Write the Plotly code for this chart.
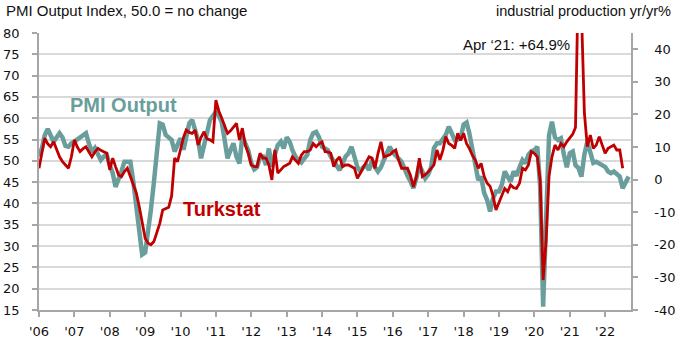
import plotly.graph_objects as go
import pandas as pd

# PMI Output Index (left axis), monthly from Jan 2006
pmi_output = [
    51, 53, 56, 57.5, 56, 54.5, 55.5, 56.5, 55.5, 53.5, 53.3, 54.1,          # 2006
    54.5, 55, 55.3, 55.8, 56.5, 54, 52.1, 53, 51.5, 50.2, 51, 51.4,          # 2007
    49, 47.1, 43.9, 45.5, 47.5, 49.8, 49.8, 49.8, 45, 40, 33, 28,            # 2008
    28.5, 33, 38.5, 45, 52, 58.8, 58.5, 56.1, 55.5, 54.9, 52.2, 53.5,        # 2009
    55.3, 52.6, 56, 58.8, 59.6, 57, 54.9, 50.6, 53.5, 57.2, 59.6, 60.5,      # 2010
    61.5, 60.5, 59.2, 55, 50.6, 52.5, 54.1, 51, 49.4, 55.7, 54, 52.5,        # 2011
    49.5, 48, 48.5, 51, 51, 49, 52.9, 48.6, 51.5, 53.7, 54.5, 52.9,          # 2012
    55.5, 54.5, 52.5, 51, 50.2, 49.6, 50.5, 51.4, 54.9, 56.5, 56.8, 55.5,    # 2013
    53.3, 53, 52.5, 51, 49.8, 48.5, 47.8, 49.5, 51, 51.8, 53.3, 51,          # 2014
    48.5, 47.5, 48.5, 49, 47.8, 50.2, 48.5, 47.5, 48.5, 50.2, 52, 53.3,      # 2015
    52, 51.4, 50.5, 49.8, 47.8, 46.5, 45.2, 43.6, 46, 49, 47.5, 45.9,        # 2016
    46.8, 48.6, 53, 54.1, 54.1, 55, 56.1, 58, 56.5, 54.9, 55, 55.3,          # 2017
    58.5, 59, 56.5, 52.5, 49.4, 45.5, 46.3, 42.5, 40.8, 38.1, 41.2, 42.8,    # 2018
    42.8, 44.5, 47.5, 46.5, 45.1, 47.5, 46.5, 48.5, 50.2, 49.4, 51.4, 52.2,  # 2019
    52.5, 53.3, 44, 15.8, 36, 56, 59.2, 55.5, 54.9, 55.3, 51.5, 48.5,        # 2020
    51.8, 52.2, 49, 48.3, 46.3, 51.5, 54.5, 52, 49.5, 49.8, 49.4, 49,        # 2021
    48.6, 47.5, 47.1, 47.5, 47, 46.3, 43.6, 45.1, 46.3,                      # 2022
]

# Turkstat industrial production, yr/yr % (right axis), monthly from Jan 2006
turkstat_ip = [
    3.5, 8, 12.7, 11, 10.1, 11.6, 9, 7, 5.5, 4.5, 3.5, 7,                    # 2006
    12.2, 10, 8.6, 9.5, 10.1, 8.5, 7, 8.5, 9.6, 9, 8.6, 8.1,                 # 2007
    3, 6.6, 4, 1.5, 0.9, 2.5, 3.5, 1, -1.1, -4, -8.3, -13,                   # 2008
    -18, -19.5, -20, -19, -16, -13.4, -9.3, -9, -8.5, -5, 6.6, 5.5,          # 2009
    9, 13, 15.2, 14.5, 14.2, 15.2, 10.6, 13, 14.7, 12.5, 12.2, 11.6,         # 2010
    24.4, 21, 19, 16.3, 14.2, 15, 16, 17.3, 12.2, 15.8, 10.6, 8.1,           # 2011
    4.5, 4, 4, 8.1, 6.6, 6.6, 4.5, -0.1, 9.1, 2, 3, 4,                       # 2012
    4.5, 5, 7, 6, 5, 7.5, 8.6, 8.6, 9.1, 11.1, 10.1, 11,                     # 2013
    11.6, 8.6, 8.5, 8.1, 4, 6, 7, 4, 4.5, 4.5, 4, 3.5,                       # 2014
    0.4, 2, 3.5, 5.5, 7, 6.6, 3.5, 8, 11.6, 7, 7.3, 7.6,                     # 2015
    8.5, 9.1, 6, 3.5, 3.5, 3.5, 1.4, -2.2, 0.9, 6.6, 0.9, 1.5,               # 2016
    2.4, 3.5, 4.5, 9.1, 6.1, 9, 13.2, 11.1, 10.5, 9.6, 14.2, 12,             # 2017
    14.2, 11, 9.6, 7.5, 6.1, 3.5, 5, 1, -1.1, -2, -5, -9.3,                  # 2018
    -7, -5.2, -2.7, -3.7, -1.6, -2.5, -2.7, -1.1, 3.5, 3, 4.5, 8.6,          # 2019
    8.1, 7, -0.1, -30.8, -19, 1, 7, 10.6, 9.1, 11.1, 10.1, 11.6,             # 2020
    12.7, 14, 16, 64.9, 52, 20.4, 10.1, 13.7, 9.6, 10.6, 13.2, 10.5,         # 2021
    8.1, 9.6, 10.1, 10.6, 9.1, 9.1, 3.5,                                     # 2022
]

years = list(range(2006, 2023))
year_ticks = [f"{y}-01-01" for y in years]
year_labels = [f"'{y % 100:02d}" for y in years]

left_ticks = list(range(15, 81, 5))
left_labels = [str(v) for v in left_ticks]
right_ticks = list(range(-40, 41, 10))
right_labels = [str(v) for v in right_ticks]

dates_pmi = pd.date_range("2006-01-01", periods=len(pmi_output), freq="MS")
dates_ip = pd.date_range("2006-01-01", periods=len(turkstat_ip), freq="MS")

TEAL = "#6a9e9c"
RED = "#c00000"
FONT = "Liberation Sans, Arial, sans-serif"
TICKFONT = dict(family="DejaVu Sans, Verdana, sans-serif", size=13, color="#111111")
AXIS = "#a6a6a6"

fig = go.Figure()
fig.add_trace(go.Scatter(x=dates_pmi, y=pmi_output, mode="lines",
                         line=dict(color=TEAL, width=4.5), name="PMI Output",
                         yaxis="y"))
fig.add_trace(go.Scatter(x=dates_ip, y=turkstat_ip, mode="lines",
                         line=dict(color=RED, width=2.8), name="Turkstat",
                         yaxis="y2"))

fig.update_layout(
    width=682, height=355,
    margin=dict(l=39, r=51, t=33, b=45, autoexpand=False),
    plot_bgcolor="white", paper_bgcolor="white",
    showlegend=False,
    font=dict(family=FONT, size=14, color="#111111"),
    xaxis=dict(
        type="date", automargin=False,
        range=["2006-01-01", "2022-09-25"],
        tickvals=year_ticks, ticktext=year_labels,
        showgrid=False, showline=True, linecolor=AXIS, linewidth=1.5,
        ticks="outside", ticklen=5, tickcolor=AXIS, tickwidth=1.5,
        tickfont=TICKFONT, zeroline=False, ticklabelstandoff=4,
    ),
    yaxis=dict(
        range=[15, 80], tickvals=left_ticks, ticktext=left_labels,
        automargin=False,
        showgrid=True, gridcolor="#d9d9d9", gridwidth=1.5,
        showline=True, linecolor=AXIS, linewidth=1.5,
        ticks="outside", ticklen=5, tickcolor=AXIS, tickwidth=1.5,
        tickfont=TICKFONT, zeroline=False, ticklabelstandoff=10,
    ),
    yaxis2=dict(
        range=[-40, 45], tickvals=right_ticks, ticktext=right_labels,
        overlaying="y", side="right", anchor="x", automargin=False,
        showgrid=False,
        showline=True, linecolor=AXIS, linewidth=1.5,
        ticks="outside", ticklen=5, tickcolor=AXIS, tickwidth=1.5,
        tickfont=TICKFONT, zeroline=False, ticklabelstandoff=14,
    ),
)

fig.add_annotation(text="PMI Output Index, 50.0 = no change", xref="paper", yref="paper",
                   x=(4 - 39) / 592, y=(310 - 11) / 277, xanchor="left", yanchor="middle",
                   showarrow=False, font=dict(size=15))
fig.add_annotation(text="industrial production yr/yr%", xref="paper", yref="paper",
                   x=(583 - 39) / 592, y=(310 - 11) / 277, xanchor="center", yanchor="middle",
                   showarrow=False, font=dict(size=14.5))
fig.add_annotation(text="Apr \u201821: +64.9%", xref="paper", yref="paper",
                   x=(516 - 39) / 592, y=(310 - 45) / 277, xanchor="center", yanchor="middle",
                   showarrow=False, font=dict(size=15))
fig.add_annotation(text="<b>PMI Output</b>", xref="paper", yref="paper",
                   x=(123 - 39) / 592, y=(310 - 105) / 277, xanchor="center", yanchor="middle",
                   showarrow=False, font=dict(size=20, color=TEAL))
fig.add_annotation(text="<b>Turkstat</b>", xref="paper", yref="paper",
                   x=(181 - 39) / 592, y=(310 - 209) / 277, xanchor="left", yanchor="middle",
                   showarrow=False, font=dict(size=20, color=RED))

fig.write_html("out.html", config={"displayModeBar": False},
               post_script="document.body.style.margin='0';")
